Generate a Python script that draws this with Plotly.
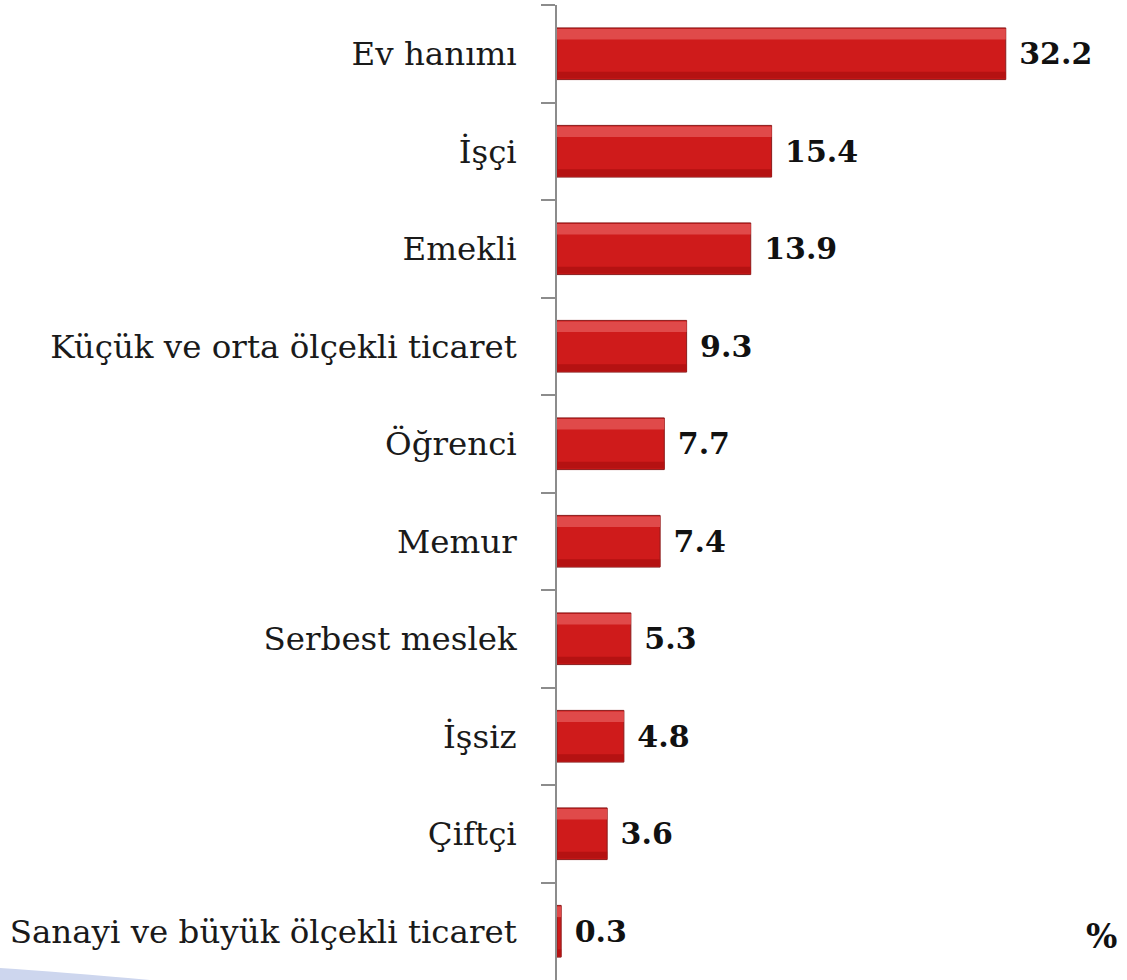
import plotly.graph_objects as go

categories = ["Ev hanımı", "İşçi", "Emekli", "Küçük ve orta ölçekli ticaret",
              "Öğrenci", "Memur", "Serbest meslek", "İşsiz", "Çiftçi",
              "Sanayi ve büyük ölçekli ticaret"]
values = [32.2, 15.4, 13.9, 9.3, 7.7, 7.4, 5.3, 4.8, 3.6, 0.3]
labels = [f"{v:.1f}" for v in values]

SERIF = "Book Antiqua, Palatino Linotype, DejaVu Serif, serif"

W, H = 1127, 980
ML, MT = 557, 5


def px_to_paper(px, py):
    return (px - ML) / (W - ML), (H - py) / (H - MT)


fig = go.Figure()
fig.add_trace(go.Bar(
    y=categories, x=values, orientation="h",
    width=0.53,
    marker=dict(color="#cf1b1b", line=dict(color="#8a1c1c", width=1)),
    text=["\u00a0" + t for t in labels], textposition="outside",
    cliponaxis=False,
    textfont=dict(family=SERIF, size=30, color="#111111", weight="bold"),
    hoverinfo="skip",
))
# lighter band along the top of each bar (bevel look)
fig.add_trace(go.Bar(
    y=categories, x=values, orientation="h",
    width=0.11, offset=-0.255,
    marker=dict(color="#e04a4a", line=dict(width=0)),
    hoverinfo="skip",
))
# darker band along the bottom of each bar
fig.add_trace(go.Bar(
    y=categories, x=values, orientation="h",
    width=0.07, offset=0.185,
    marker=dict(color="#b51212", line=dict(width=0)),
    hoverinfo="skip",
))

fig.add_annotation(x=1, y=0, xref="paper", yref="paper", xanchor="right", yanchor="bottom",
                   text="<b>%</b>", showarrow=False, xshift=-8, yshift=22,
                   font=dict(family=SERIF, size=33, color="#111111"))

# light blue decorative sweep at the bottom-left corner
p0 = px_to_paper(0, 968)
pc = px_to_paper(60, 972)
p1 = px_to_paper(150, 980)
p2 = px_to_paper(0, 980)
fig.add_shape(type="path", xref="paper", yref="paper",
              path=f"M {p0[0]} {p0[1]} Q {pc[0]} {pc[1]} {p1[0]} {p1[1]} L {p2[0]} {p2[1]} Z",
              fillcolor="#cdd6ee", line=dict(width=0), layer="below")

fig.update_layout(
    width=W, height=H,
    margin=dict(l=ML, r=0, t=MT, b=0, autoexpand=False),
    paper_bgcolor="white", plot_bgcolor="white",
    showlegend=False, barmode="overlay",
    xaxis=dict(range=[0, 40.9], visible=False),
    yaxis=dict(autorange="reversed", type="category",
               showline=True, linecolor="#8c8c8c", linewidth=1.5,
               ticks="outside", tickson="boundaries", ticklen=14,
               tickcolor="#8c8c8c", tickwidth=1.5,
               ticklabelstandoff=32,
               tickfont=dict(family=SERIF, size=32.5, color="#1a1a1a"),
               showgrid=False),
)
fig.write_html("out.html", config={"displayModeBar": False},
               post_script="document.body.style.margin='0';document.body.style.overflow='hidden';")
